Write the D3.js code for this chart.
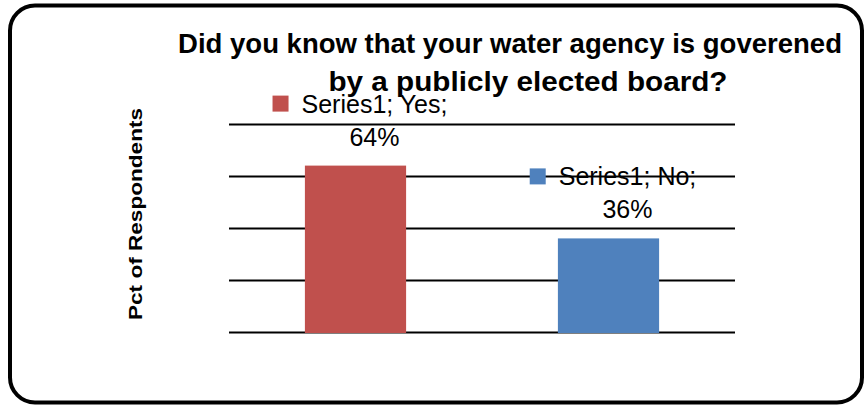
<!DOCTYPE html>
<html>
<head>
<meta charset="utf-8">
<script src="https://cdn.jsdelivr.net/npm/d3@7"></script>
<style>
	body { margin: 0; background: #fff; }
	svg text { font-family: "Liberation Sans", Arial, sans-serif; fill: #000; }
</style>
</head>
<body>
<div id="chart"></div>
<script>
	// ----------------------------------------
	// DATA

	var seriesName = "Series1";
	var categories = ["Yes", "No"];
	var values = [0.64, 0.36];
	var colors = ["#C0504D", "#4F81BD"];
	var yTicks = [0, 0.2, 0.4, 0.6, 0.8];
	var titleLines = ["Did you know that your water agency is goverened", "by a publicly elected board?"];
	var yTitle = "Pct of Respondents";

	// ----------------------------------------
	// CHART

	var width = 867;
	var height = 407;
	var plot = { left: 229, right: 735, top: 124, bottom: 332 };

	var svg = d3.select("#chart").append("svg")
		.attr("width", width)
		.attr("height", height);

	// outer rounded frame
	svg.append("rect")
		.attr("x", 10).attr("y", 5.5)
		.attr("width", 852).attr("height", 397)
		.attr("rx", 25).attr("ry", 25)
		.attr("fill", "#fff")
		.attr("stroke", "#000")
		.attr("stroke-width", 4);

	// scales
	var xScale = d3.scaleBand()
		.domain(categories)
		.range([plot.left, plot.right])
		.paddingInner(0.6)
		.paddingOuter(0.3);

	var yScale = d3.scaleLinear()
		.domain([0, d3.max(yTicks)])
		.range([plot.bottom, plot.top]);

	// gridlines
	var grid = svg.append("g")
		.attr("transform", "translate(" + plot.left + ",0)")
		.call(d3.axisLeft(yScale)
			.tickValues(yTicks)
			.tickSize(-(plot.right - plot.left))
			.tickFormat(""));
	grid.select(".domain").remove();
	grid.selectAll(".tick line")
		.attr("stroke", "#000")
		.attr("stroke-width", 2);

	// bars
	svg.selectAll(".bar")
		.data(categories)
		.enter().append("rect")
		.attr("class", "bar")
		.attr("x", function (d) { return xScale(d); })
		.attr("width", xScale.bandwidth())
		.attr("y", function (d, i) { return yScale(values[i]); })
		.attr("height", function (d, i) { return yScale(0) - yScale(values[i]) + 1; })
		.attr("fill", function (d, i) { return colors[i]; });

	// data labels: key + "Series1; X;" then the percent
	var labels = svg.selectAll(".label")
		.data(categories)
		.enter().append("g")
		.attr("class", "label");

	labels.each(function (d, i) {
		var g = d3.select(this);
		var cx = xScale(d) + xScale.bandwidth() / 2 + 19;
		var top = yScale(values[i]);

		var line1 = g.append("text")
			.attr("x", cx)
			.attr("y", top - 53)
			.attr("text-anchor", "middle")
			.attr("font-size", 25)
			.text(seriesName + "; " + d + ";");

		var w = line1.node().getComputedTextLength();
		g.append("rect")
			.attr("x", cx - w / 2 - 29)
			.attr("y", top - 53 - 17)
			.attr("width", 16)
			.attr("height", 16)
			.attr("fill", colors[i]);

		g.append("text")
			.attr("x", cx)
			.attr("y", top - 20)
			.attr("text-anchor", "middle")
			.attr("font-size", 25)
			.text(d3.format(".0%")(values[i]));
	});

	// title
	svg.append("text")
		.attr("x", 510).attr("y", 53)
		.attr("text-anchor", "middle")
		.attr("font-size", 27)
		.attr("font-weight", "bold")
		.attr("textLength", 664)
		.attr("lengthAdjust", "spacingAndGlyphs")
		.text(titleLines[0]);
	svg.append("text")
		.attr("x", 528).attr("y", 91)
		.attr("text-anchor", "middle")
		.attr("font-size", 27)
		.attr("font-weight", "bold")
		.attr("textLength", 399)
		.attr("lengthAdjust", "spacingAndGlyphs")
		.text(titleLines[1]);

	// y axis title
	svg.append("text")
		.attr("transform", "translate(142,214) rotate(-90)")
		.attr("text-anchor", "middle")
		.attr("font-size", 19)
		.attr("font-weight", "bold")
		.attr("textLength", 212)
		.attr("lengthAdjust", "spacingAndGlyphs")
		.text(yTitle);
</script>
</body>
</html>
